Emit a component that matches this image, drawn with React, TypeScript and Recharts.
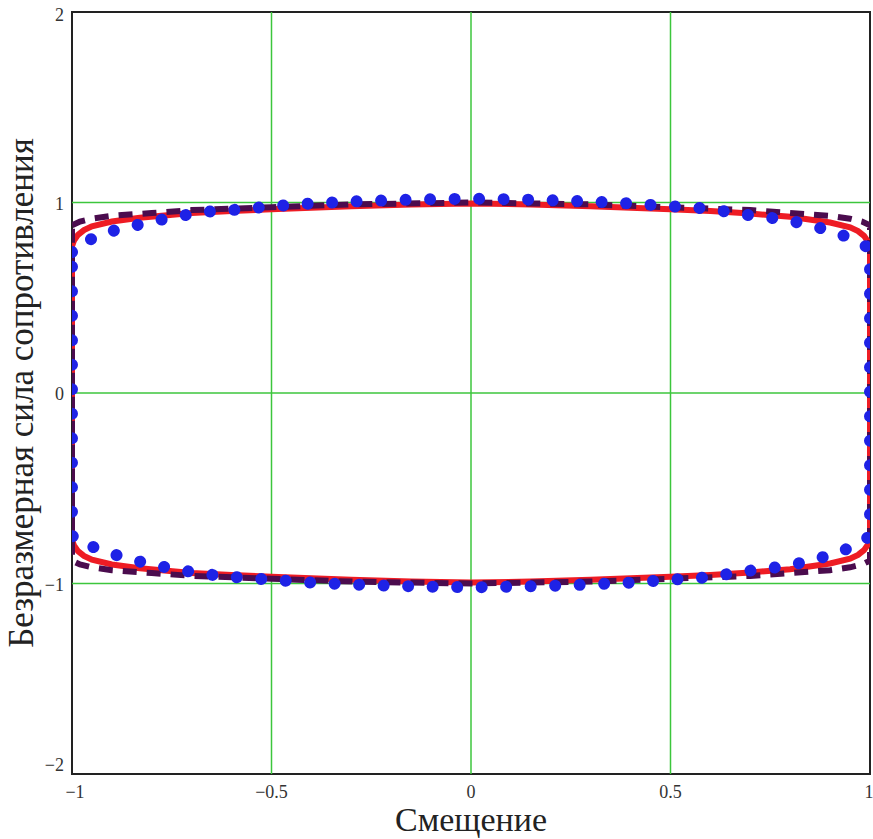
import React from 'react';
import {
  ComposedChart,
  Line,
  XAxis,
  YAxis,
  ReferenceLine,
  ReferenceArea,
} from 'recharts';

// x positions and upper / lower branch values
const redX = [-1, -0.995, -0.985, -0.97, -0.95, -0.9, -0.83, -0.7, -0.6, -0.5, -0.3, -0.15, 0, 0.15, 0.3, 0.5, 0.6, 0.7, 0.8, 0.9, 0.95, 0.97, 0.985, 0.995, 1];
const redTop = [0.77, 0.8, 0.83, 0.855, 0.875, 0.9, 0.92, 0.945, 0.955, 0.965, 0.98, 0.99, 0.995, 0.99, 0.98, 0.965, 0.955, 0.942, 0.925, 0.895, 0.87, 0.85, 0.825, 0.795, 0.765];
const redBottom = [-0.77, -0.8, -0.83, -0.855, -0.875, -0.9, -0.92, -0.945, -0.955, -0.965, -0.98, -0.99, -0.995, -0.99, -0.98, -0.965, -0.955, -0.942, -0.925, -0.895, -0.87, -0.85, -0.825, -0.795, -0.765];

const blueX = [-1, -0.995, -0.97, -0.92, -0.86, -0.8, -0.74, -0.67, -0.6, -0.5, -0.4, -0.3, -0.2, -0.1, 0, 0.1, 0.2, 0.3, 0.4, 0.5, 0.57, 0.63, 0.69, 0.75, 0.81, 0.875, 0.93, 0.99, 1];
const blueTop = [0.74, 0.77, 0.79, 0.84, 0.87, 0.9, 0.925, 0.95, 0.96, 0.98, 0.995, 1.005, 1.012, 1.017, 1.02, 1.017, 1.012, 1.005, 0.995, 0.98, 0.972, 0.955, 0.935, 0.92, 0.9, 0.866, 0.83, 0.77, 0.74];
const blueBottom = [-0.74, -0.77, -0.79, -0.83, -0.87, -0.9, -0.925, -0.95, -0.965, -0.98, -0.995, -1.005, -1.012, -1.017, -1.02, -1.017, -1.012, -1.005, -0.995, -0.98, -0.972, -0.955, -0.935, -0.92, -0.9, -0.866, -0.83, -0.77, -0.74];

const darkX = [-1, -0.98, -0.95, -0.9, -0.8, -0.7, -0.5, -0.3, 0, 0.3, 0.5, 0.7, 0.8, 0.9, 0.95, 0.98, 1];
const darkTop = [0.88, 0.9, 0.915, 0.93, 0.945, 0.96, 0.975, 0.99, 1.0, 0.99, 0.975, 0.96, 0.945, 0.93, 0.915, 0.9, 0.88];
const darkBottom = [-0.88, -0.9, -0.915, -0.93, -0.945, -0.96, -0.975, -0.99, -1.0, -0.99, -0.975, -0.96, -0.945, -0.93, -0.915, -0.9, -0.88];

const xTicks = [-1, -0.5, 0, 0.5, 1];
const yTicks = [-2, -1, 0, 1, 2];
const xGrid = [-0.5, 0, 0.5];
const yGrid = [-1, 0, 1];

// closed loop: upper branch left->right, then lower branch right->left
const loop = (xs: number[], top: number[], bottom: number[]) => {
  const pts = xs.map((x, i) => ({ x, y: top[i] }));
  for (let i = xs.length - 1; i >= 0; i--) pts.push({ x: xs[i], y: bottom[i] });
  pts.push({ x: xs[0], y: top[0] });
  return pts;
};

const redData = loop(redX, redTop, redBottom);
const blueData = loop(blueX, blueTop, blueBottom);
const darkData = loop(darkX, darkTop, darkBottom);

const FONT = '"Liberation Serif", "Times New Roman", serif';

const fmt = (v: number) => (v < 0 ? `\u2212${Math.abs(v)}` : `${v}`);

const tickStyle = { fontFamily: FONT, fontSize: 18, fill: '#333' };

const XTick = ({ x, y, payload }: any) => (
  <text x={x + (payload.value === -1 ? 3 : 0)} y={y + 16} textAnchor="middle" style={tickStyle}>
    {fmt(payload.value)}
  </text>
);

const YTick = ({ x, y, payload }: any) => {
  const shift = payload.value === -2 ? -9 : payload.value === 2 ? 3 : 1;
  return (
    <text x={x} y={y + shift} textAnchor="end" dominantBaseline="central" style={tickStyle}>
      {fmt(payload.value)}
    </text>
  );
};

const YLabel = ({ viewBox }: any) => {
  const cx = 33;
  const cy = viewBox.y + viewBox.height / 2;
  return (
    <text x={cx} y={cy} transform={`rotate(-90 ${cx} ${cy})`} textAnchor="middle"
      style={{ fontFamily: FONT, fontSize: 35, fill: '#222' }}>
      Безразмерная сила сопротивления
    </text>
  );
};

const XLabel = ({ viewBox }: any) => {
  const cx = viewBox.x + viewBox.width / 2;
  return (
    <text x={cx} y={831} textAnchor="middle" style={{ fontFamily: FONT, fontSize: 34, fill: '#222' }}>
      Смещение
    </text>
  );
};

export default function App() {
  return (
    <div style={{ position: 'absolute', left: 0, top: 0, width: 873, height: 839, background: '#fff' }}>
      <ComposedChart width={873} height={839} margin={{ top: 12, right: 3, bottom: 0, left: 0 }}>
        <XAxis
          dataKey="x"
          type="number"
          domain={[-1, 1]}
          ticks={xTicks}
          tickLine={false}
          axisLine={false}
          height={65}
          tick={<XTick />}
          label={<XLabel />}
          allowDataOverflow
        />
        <YAxis
          dataKey="y"
          type="number"
          domain={[-2, 2]}
          ticks={yTicks}
          tickLine={false}
          axisLine={false}
          width={72}
          tick={<YTick />}
          label={<YLabel />}
          allowDataOverflow
        />
        {xGrid.map((v) => (
          <ReferenceLine key={`gx${v}`} x={v} stroke="#3cc63c" strokeWidth={1.5} />
        ))}
        {yGrid.map((v) => (
          <ReferenceLine key={`gy${v}`} y={v} stroke="#3cc63c" strokeWidth={1.5} />
        ))}
        <ReferenceArea x1={-1} x2={1} y1={-2} y2={2} stroke="#222" strokeWidth={2} fill="none" fillOpacity={0} />
        <Line
          data={redData}
          dataKey="y"
          type="linear"
          stroke="#ee1c24"
          strokeWidth={6}
          dot={false}
          isAnimationActive={false}
        />
        <Line
          data={darkData}
          dataKey="y"
          type="linear"
          stroke="#4b0c4e"
          strokeWidth={6}
          strokeDasharray="14 10"
          dot={false}
          isAnimationActive={false}
        />
        <Line
          data={blueData}
          dataKey="y"
          type="linear"
          stroke="#1e22e6"
          strokeWidth={12}
          strokeLinecap="round"
          strokeDasharray="0.01 24.5"
          dot={false}
          isAnimationActive={false}
        />
      </ComposedChart>
    </div>
  );
}
